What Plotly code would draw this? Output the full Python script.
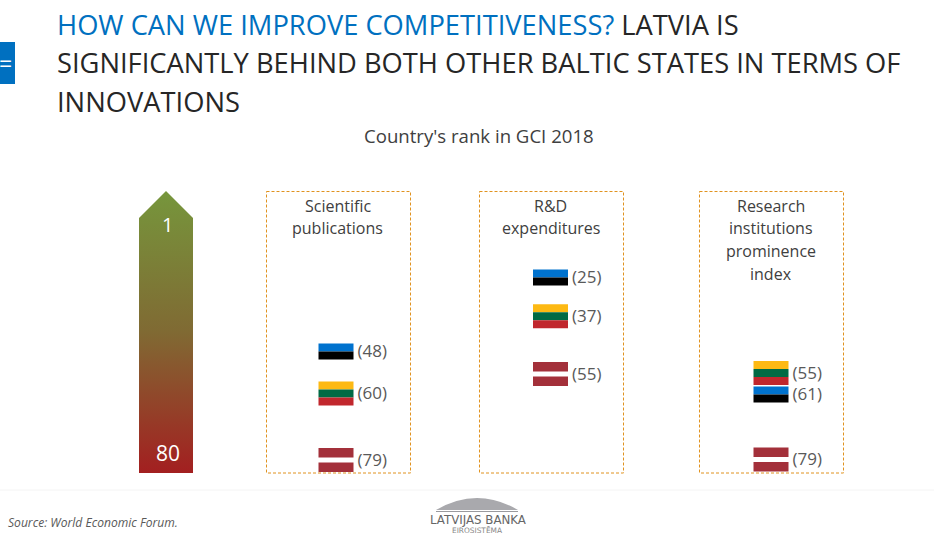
import plotly.graph_objects as go

# ---- data ----
panel_titles = [["Scientific", "publications"],
                ["R&D", "expenditures"],
                ["Research", "institutions", "prominence", "index"]]
estonia_rank = [48, 25, 61]
lithuania_rank = [60, 37, 55]
latvia_rank = [79, 55, 79]
scale_ends = ["1", "80"]

# ---- layout constants (pixel geometry of the slide) ----
W, H = 934, 538
FONT = "Open Sans"
TXT = "#595959"
boxes = [(266.5, 410.5), (479.5, 623.5), (699.5, 843.5)]
flag_cx = [336, 550.5, 771]
FLAG_W = 35
# per-panel rank axis calibration: pixel a at rank r0, s pixels per rank
calib = [(351.5, 48, 3.5), (277.5, 25, 3.22), (373, 55, 3.6)]
axes = ["y", "y2", "y3"]

fig = go.Figure()

# gradient arrow
fig.add_trace(go.Scatter(
    x=[139, 139, 166, 193, 193, 139], y=[473, 218, 191, 218, 473, 473], yaxis="y4",
    mode="lines", line=dict(width=0), fill="toself", hoverinfo="skip",
    fillgradient=dict(type="vertical", colorscale=[[0, "#a31f20"], [0.5, "#806a33"], [1, "#76963c"]],
                      start=473, stop=191),
))

def stripes(panel, rank, spec):
    """spec = list of (top offset from flag centre, height, colour) in px."""
    a, r0, s = calib[panel]
    for top, h, col in spec:
        fig.add_trace(go.Bar(
            x=[flag_cx[panel]], y=[h / s], base=[rank + top / s], width=[FLAG_W],
            marker=dict(color=col, line=dict(width=0)), yaxis=axes[panel], hoverinfo="skip",
        ))

EST = [(-8, 8, "#0072ce"), (0, 8, "#000000")]
LTU = [(-12, 8, "#fdb913"), (-4, 8, "#006a44"), (4, 8, "#c1272d")]
LVA = [(-12, 9.5, "#a3303a"), (2.5, 9.5, "#a3303a")]

for p in range(3):
    stripes(p, latvia_rank[p], LVA)
    stripes(p, estonia_rank[p], EST)
    stripes(p, lithuania_rank[p], LTU)
    ranks = [estonia_rank[p], lithuania_rank[p], latvia_rank[p]]
    s = calib[p][2]
    fig.add_trace(go.Scatter(
        x=[flag_cx[p] + FLAG_W / 2 + 4] * 3, y=[r + 1.5 / s for r in ranks], yaxis=axes[p], mode="text",
        text=[f"({r})" for r in ranks], textposition="middle right",
        textfont=dict(family=FONT, size=17, color=TXT), hoverinfo="skip",
    ))

shapes = []
for x0, x1 in boxes:
    shapes.append(dict(type="rect", xref="x", yref="y4", x0=x0, x1=x1, y0=191.5, y1=473,
                       line=dict(color="#e0921f", width=1, dash="3px,2px")))
shapes += [
    dict(type="rect", xref="x", yref="y4", x0=0, x1=15, y0=42, y1=84, fillcolor="#0070c0", line_width=0),
    dict(type="line", xref="x", yref="y4", x0=0, x1=W, y0=490, y1=490, line=dict(color="#f4f4f4", width=1)),
    dict(type="path", xref="x", yref="y4", path="M 436 510 Q 477 486 518 510 Z", fillcolor="#a9a9ad", line_width=0),
    dict(type="line", xref="x", yref="y4", x0=436, x1=518, y0=511.5, y1=511.5, line=dict(color="#9a9a9e", width=1)),
]

def label(x, y, text, size, color=TXT, anchor="center", family=FONT, **kw):
    return dict(xref="x", yref="y4", x=x, y=y, text=text, showarrow=False, xanchor=anchor, yanchor="middle",
                font=dict(family=family, size=size, color=color), **kw)

TITLE_SIZE = 27.3
ann = [
    label(55, 24, '<span style="color:#0070c0">HOW CAN WE IMPROVE COMPETITIVENESS?</span> LATVIA IS', TITLE_SIZE, "#262626", "left"),
    label(55, 62, "SIGNIFICANTLY BEHIND BOTH OTHER BALTIC STATES IN TERMS OF", TITLE_SIZE, "#262626", "left"),
    label(55, 101, "INNOVATIONS", TITLE_SIZE, "#262626", "left"),
    label(479, 135, "Country's rank in GCI 2018", 18.6, "#404040"),
    label(167, 224, scale_ends[0], 20, "#ffffff"),
    label(167.5, 453, scale_ends[1], 21, "#ffffff"),
    label(5, 63, "=", 23, "#ffffff"),
    label(6, 522, "<i>Source: World Economic Forum.</i>", 12.1, "#595959", "left"),
    label(478, 519.5, "LATVIJAS BANKA", 11.8, "#666666", family="DejaVu Sans"),
    label(477, 530.5, "EIROSISTĒMA", 7.4, "#888888", family="DejaVu Sans"),
]
for (x0, x1), lines in zip(boxes, panel_titles):
    for i, t in enumerate(lines):
        ann.append(label((x0 + x1) / 2 - 1, 205.5 + i * 22.8, t.replace("&", "&amp;"), 16, "#404040"))

hidden = dict(visible=False, fixedrange=True)
layout_axes = {}
for i, (a, r0, s) in enumerate(calib):
    name = "yaxis" if i == 0 else f"yaxis{i + 1}"
    layout_axes[name] = dict(range=[r0 + (H - a) / s, r0 + (0 - a) / s], domain=[0, 1], **hidden)
    if i:
        layout_axes[name]["overlaying"] = "y"

fig.update_layout(
    width=W, height=H, margin=dict(l=0, r=0, t=0, b=0), autosize=False,
    paper_bgcolor="white", plot_bgcolor="white", showlegend=False, barmode="overlay",
    xaxis=dict(range=[0, W], domain=[0, 1], **hidden),
    yaxis4=dict(range=[H, 0], domain=[0, 1], overlaying="y", **hidden),
    shapes=shapes, annotations=ann, **layout_axes,
)
fig.write_html("out.html", config={"displayModeBar": False},
               post_script="document.body.style.margin='0';")
